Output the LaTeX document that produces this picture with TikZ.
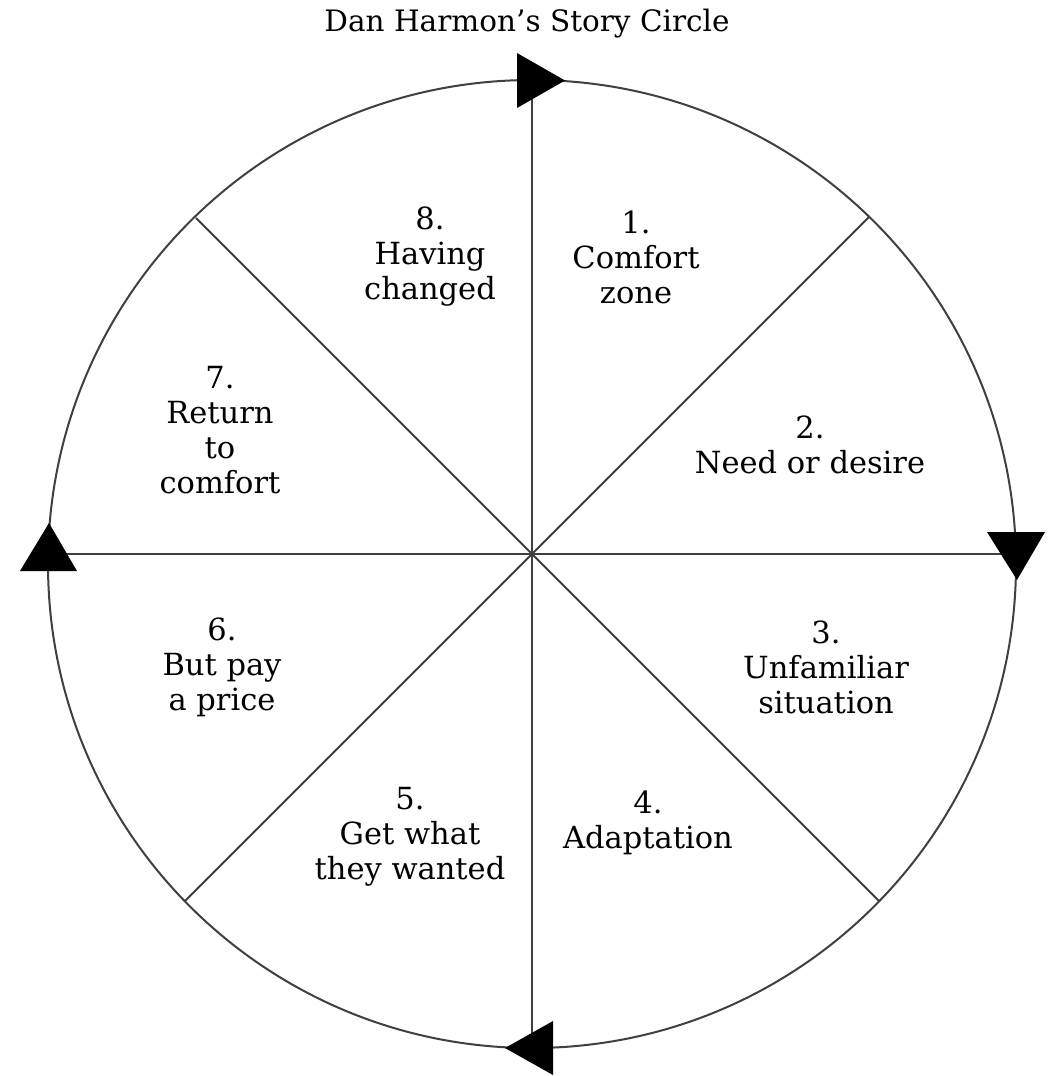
\documentclass[tikz,border=0pt]{standalone}
\usepackage{fontspec}
\setmainfont{DejaVu Serif}
\begin{document}
\begin{tikzpicture}[x=1pt,y=-1pt,
  ring/.style={draw=black!75,line width=2pt},
  spoke/.style={draw=black!75,line width=2pt},
  arrowtri/.style={fill=black,draw=none},
  lbl/.style={align=center,inner sep=0pt,font=\fontsize{30.5}{35}\selectfont},
  ttl/.style={inner sep=0pt,font=\fontsize{29.5}{34}\selectfont}]
\useasboundingbox[fill=white] (0,0) rectangle (1058,1076);
% geometry
\coordinate (O) at (532,564);
\coordinate (C) at (532,554);
\coordinate (N) at (532,80);
\coordinate (S) at (532,1048);
\coordinate (W) at (48,554);
\coordinate (E) at (1016,554);
\coordinate (NE) at (869,217);
\coordinate (SW) at (185,901);
\coordinate (NW) at (196,218);
\coordinate (SE) at (879,901);
% circle and spokes
\draw[ring] (O) circle[radius=484];
\draw[spoke] (N) -- (S);
\draw[spoke] (W) -- (E);
\draw[spoke] (NE) -- (SW);
\draw[spoke] (NW) -- (SE);
% arrowheads
\fill[arrowtri] (517,53) -- (565,80.5) -- (517,108) -- cycle;
\fill[arrowtri] (987,532) -- (1045,532) -- (1017,580) -- cycle;
\fill[arrowtri] (553,1021) -- (505,1048) -- (553,1075) -- cycle;
\fill[arrowtri] (20,571) -- (49,523) -- (77,571) -- cycle;
% title
\node[ttl] (title) at (527,24) {Dan Harmon’s Story Circle};
% labels
\node[lbl] (s1) at (636,257) {1.\\Comfort\\zone};
\node[lbl] (s2) at (810,445) {2.\\Need or desire};
\node[lbl] (s3) at (826,667) {3.\\Unfamiliar\\situation};
\node[lbl] (s4) at (648,823) {4.\\Adaptation};
\node[lbl] (s5) at (410,837) {5.\\Get what\\they wanted};
\node[lbl] (s6) at (222,667) {6.\\But pay\\a price};
\node[lbl] (s7) at (220,430) {7.\\Return\\to\\comfort};
\node[lbl] (s8) at (430,257) {8.\\Having\\changed};
\end{tikzpicture}
\end{document}
